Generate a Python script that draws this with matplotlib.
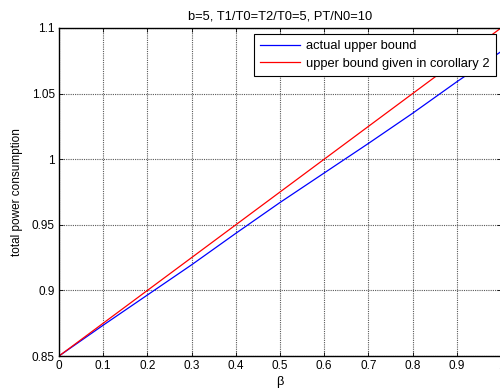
import matplotlib
matplotlib.use("Agg")
import matplotlib.pyplot as plt

beta = [0.0, 0.1, 0.2, 0.3, 0.4, 0.5, 0.6, 0.7, 0.8, 0.9, 1.0]
actual_upper = [0.85, 0.8735, 0.8965, 0.9195, 0.9435, 0.967, 0.9895, 1.012, 1.035, 1.059, 1.082]
corollary_upper = [0.85, 0.875, 0.90, 0.925, 0.95, 0.975, 1.00, 1.025, 1.05, 1.075, 1.10]
xticks = [0, 0.1, 0.2, 0.3, 0.4, 0.5, 0.6, 0.7, 0.8, 0.9, 1]
xticklabels = ["0", "0.1", "0.2", "0.3", "0.4", "0.5", "0.6", "0.7", "0.8", "0.9", "1"]
yticks = [0.85, 0.9, 0.95, 1.0, 1.05, 1.1]
yticklabels = ["0.85", "0.9", "0.95", "1", "1.05", "1.1"]

plt.rcParams['font.family'] = ['Liberation Sans', 'DejaVu Sans']
fig = plt.figure(figsize=(5.0, 3.92), dpi=100)
ax = fig.add_axes([0.118, 0.0918, 0.884, 0.8368])

ax.plot(beta, actual_upper, color='#0000ff', lw=0.9, label='actual upper bound')
ax.plot(beta, corollary_upper, color='#ff0000', lw=0.9, label='upper bound given in corollary 2')

ax.set_xlim(0, 1)
ax.set_ylim(0.85, 1.1)
ax.set_xticks(xticks)
ax.set_xticklabels(xticklabels)
ax.set_yticks(yticks)
ax.set_yticklabels(yticklabels)
ax.tick_params(direction='in', top=True, right=True, labelsize=8.5, length=3, width=0.6, pad=3)
ax.grid(True, color='0.35', linestyle=(0, (1, 1)), linewidth=0.8)
for s in ax.spines.values():
    s.set_linewidth(1.0)

ax.set_title('b=5, T1/T0=T2/T0=5, PT/N0=10', fontsize=9.3, pad=6)
ax.set_xlabel('β', fontsize=9.3, labelpad=3)
ax.set_ylabel('total power consumption', fontsize=8.5, labelpad=6)

leg = ax.legend(loc='upper right', bbox_to_anchor=(0.989, 0.982), fontsize=9.3,
                frameon=True, fancybox=False, handlelength=3.1, borderaxespad=0,
                handletextpad=0.45, borderpad=0.5, labelspacing=0.42)
leg.get_frame().set_edgecolor('black')
leg.get_frame().set_linewidth(0.8)
leg.get_frame().set_alpha(1)

fig.savefig('out.png', dpi=100)
